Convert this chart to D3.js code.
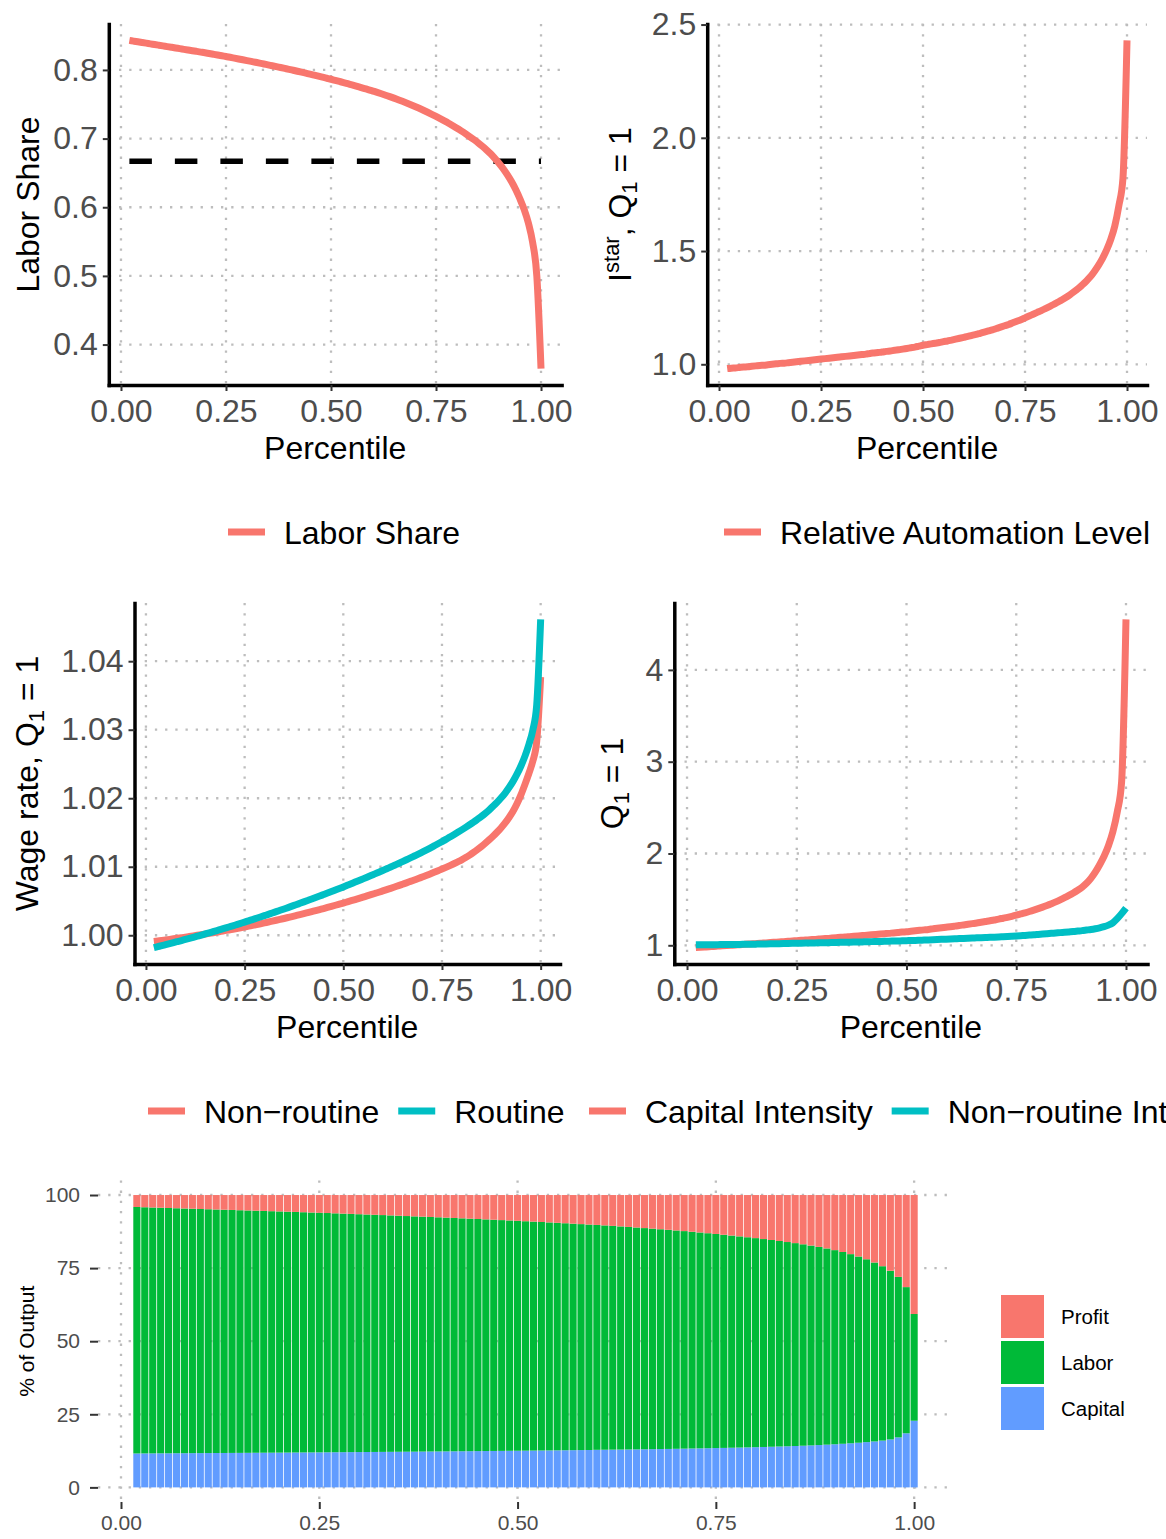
<!DOCTYPE html>
<html>
<head>
<meta charset="utf-8">
<script src="https://cdn.jsdelivr.net/npm/d3@7"></script>
<style>
  body { margin: 0; background: #fff; }
  svg { display: block; }
</style>
</head>
<body>
<svg id="chart" width="1166" height="1539"></svg>
<script>
// ---------------- DATA ----------------
const percentiles = [0.02,0.03,0.04,0.05,0.06,0.07,0.08,0.09,0.10,0.11,0.12,0.13,0.14,0.15,0.16,0.17,0.18,0.19,0.20,
  0.21,0.22,0.23,0.24,0.25,0.26,0.27,0.28,0.29,0.30,0.31,0.32,0.33,0.34,0.35,0.36,0.37,0.38,0.39,0.40,
  0.41,0.42,0.43,0.44,0.45,0.46,0.47,0.48,0.49,0.50,0.51,0.52,0.53,0.54,0.55,0.56,0.57,0.58,0.59,0.60,
  0.61,0.62,0.63,0.64,0.65,0.66,0.67,0.68,0.69,0.70,0.71,0.72,0.73,0.74,0.75,0.76,0.77,0.78,0.79,0.80,
  0.81,0.82,0.83,0.84,0.85,0.86,0.87,0.88,0.89,0.90,0.91,0.92,0.93,0.94,0.95,0.96,0.97,0.98,0.99,1.00];

const laborShare = [.8430,.8420,.8410,.8400,.8390,.8380,.8370,.8360,.8350,.8340,.8330,.8320,.8310,.8300,.8290,.8280,.8270,.8260,.8250,
  .8239,.8228,.8217,.8206,.8195,.8184,.8172,.8160,.8148,.8136,.8124,.8112,.8100,.8087,.8074,.8061,.8048,.8035,.8022,.8009,
  .7995,.7981,.7967,.7953,.7939,.7924,.7909,.7894,.7879,.7864,.7848,.7832,.7816,.7799,.7782,.7765,.7747,.7729,.7711,.7692,
  .7673,.7653,.7632,.7611,.7589,.7566,.7543,.7519,.7494,.7468,.7441,.7413,.7384,.7354,.7323,.7291,.7258,.7224,.7188,.7151,
  .7112,.7072,.7030,.6986,.6940,.6890,.6836,.6778,.6712,.6640,.6560,.6470,.6370,.6255,.6120,.5965,.5770,.5490,.5000,.3650];
const laborShareBenchmark = 0.667;

const automationLevel = [.981,.983,.984,.986,.988,.989,.991,.993,.995,.996,.998,1.000,1.002,1.004,1.005,1.007,1.009,1.011,1.013,
  1.015,1.017,1.019,1.021,1.023,1.025,1.027,1.029,1.031,1.033,1.035,1.037,1.039,1.041,1.043,1.045,1.048,1.050,1.052,1.054,
  1.057,1.059,1.062,1.064,1.067,1.070,1.073,1.076,1.080,1.084,1.087,1.090,1.093,1.096,1.100,1.103,1.107,1.111,1.115,1.119,
  1.123,1.128,1.132,1.137,1.142,1.147,1.152,1.158,1.164,1.170,1.176,1.183,1.190,1.197,1.205,1.213,1.221,1.229,1.237,1.246,
  1.255,1.264,1.274,1.284,1.295,1.307,1.320,1.334,1.350,1.367,1.386,1.410,1.437,1.468,1.505,1.550,1.610,1.700,1.820,2.430];

const wageNonRoutine = [.99910,.99917,.99924,.99932,.99940,.99948,.99956,.99964,.99972,.99981,.99990,.99999,1.00008,1.00017,1.00027,1.00037,1.00047,1.00057,1.00067,
  1.00077,1.00088,1.00099,1.00110,1.00121,1.00133,1.00144,1.00156,1.00168,1.00181,1.00193,1.00206,1.00219,1.00232,1.00245,1.00259,1.00273,1.00287,1.00301,1.00315,
  1.00330,1.00345,1.00360,1.00375,1.00390,1.00406,1.00422,1.00438,1.00454,1.00470,1.00487,1.00504,1.00521,1.00538,1.00556,1.00574,1.00592,1.00610,1.00628,1.00647,
  1.00666,1.00685,1.00705,1.00725,1.00745,1.00765,1.00786,1.00807,1.00828,1.00850,1.00872,1.00895,1.00918,1.00942,1.00966,1.00991,1.01017,1.01044,1.01072,1.01101,
  1.01134,1.01170,1.01209,1.01251,1.01296,1.01344,1.01395,1.01449,1.01507,1.01569,1.01639,1.01719,1.01809,1.01919,1.02049,1.02199,1.02360,1.02540,1.02830,1.03770];

const wageRoutine = [.99820,.99834,.99848,.99863,.99878,.99893,.99908,.99923,.99939,.99954,.99970,.99986,1.00002,1.00019,1.00035,1.00052,1.00069,1.00086,1.00103,
  1.00121,1.00138,1.00156,1.00174,1.00192,1.00211,1.00229,1.00248,1.00267,1.00286,1.00305,1.00325,1.00344,1.00364,1.00384,1.00404,1.00425,1.00445,1.00466,1.00487,
  1.00508,1.00529,1.00551,1.00572,1.00594,1.00616,1.00638,1.00661,1.00683,1.00706,1.00729,1.00752,1.00776,1.00799,1.00823,1.00847,1.00871,1.00896,1.00920,1.00945,
  1.00971,1.00996,1.01022,1.01048,1.01075,1.01102,1.01129,1.01157,1.01185,1.01214,1.01243,1.01273,1.01304,1.01335,1.01367,1.01399,1.01433,1.01467,1.01502,1.01538,
  1.01575,1.01613,1.01652,1.01693,1.01735,1.01781,1.01831,1.01885,1.01943,1.02006,1.02076,1.02156,1.02246,1.02351,1.02471,1.02611,1.02781,1.02991,1.03360,1.04610];

const capitalIntensity = [.975,.978,.981,.984,.988,.991,.994,.997,1.000,1.003,1.007,1.010,1.013,1.016,1.020,1.023,1.026,1.030,1.033,
  1.036,1.040,1.043,1.047,1.050,1.054,1.057,1.061,1.064,1.068,1.072,1.075,1.079,1.083,1.087,1.090,1.094,1.098,1.102,1.106,
  1.110,1.114,1.118,1.122,1.126,1.130,1.135,1.139,1.144,1.148,1.153,1.158,1.163,1.168,1.173,1.179,1.185,1.191,1.197,1.203,
  1.209,1.215,1.222,1.229,1.236,1.243,1.251,1.259,1.267,1.276,1.285,1.295,1.305,1.316,1.328,1.341,1.354,1.368,1.383,1.399,
  1.416,1.434,1.453,1.473,1.495,1.518,1.543,1.570,1.600,1.633,1.675,1.729,1.797,1.878,1.970,2.085,2.235,2.450,2.780,4.550];

const nonRoutineIntensity = [1.005,1.005,1.006,1.006,1.007,1.007,1.008,1.008,1.009,1.010,1.010,1.011,1.012,1.012,1.013,1.014,1.015,1.016,1.017,
  1.018,1.019,1.020,1.021,1.022,1.023,1.024,1.025,1.026,1.027,1.028,1.029,1.030,1.031,1.032,1.033,1.034,1.035,1.036,1.037,
  1.038,1.040,1.041,1.042,1.043,1.045,1.046,1.047,1.049,1.050,1.052,1.053,1.055,1.057,1.059,1.061,1.063,1.065,1.067,1.069,
  1.071,1.073,1.075,1.077,1.079,1.081,1.083,1.085,1.087,1.088,1.090,1.093,1.096,1.099,1.102,1.105,1.108,1.111,1.114,1.118,
  1.122,1.126,1.130,1.134,1.138,1.142,1.146,1.150,1.155,1.160,1.166,1.172,1.180,1.190,1.203,1.220,1.245,1.290,1.345,1.405];

// capital share of output, percent
const capitalPct = [11.60,11.62,11.63,11.65,11.66,11.68,11.69,11.71,11.72,11.74,11.75,11.77,11.79,11.80,11.82,11.84,11.86,11.87,11.89,
  11.91,11.93,11.95,11.96,11.98,12.00,12.02,12.04,12.06,12.08,12.10,12.12,12.14,12.16,12.18,12.20,12.22,12.25,12.27,12.29,
  12.31,12.34,12.36,12.38,12.41,12.43,12.46,12.48,12.51,12.53,12.56,12.59,12.61,12.64,12.67,12.70,12.73,12.76,12.79,12.85,
  12.88,12.91,12.94,12.97,13.00,13.03,13.07,13.11,13.15,13.20,13.25,13.30,13.35,13.40,13.45,13.50,13.56,13.62,13.68,13.75,
  13.82,13.90,13.98,14.06,14.15,14.25,14.36,14.48,14.61,14.75,14.91,15.08,15.27,15.48,15.72,16.00,16.40,17.10,18.50,22.80];

const xTicks = [0, 0.25, 0.5, 0.75, 1];
const laborTicks = [0.4, 0.5, 0.6, 0.7, 0.8];
const automationTicks = [1.0, 1.5, 2.0, 2.5];
const wageTicks = [1.00, 1.01, 1.02, 1.03, 1.04];
const intensityTicks = [1, 2, 3, 4];
const pctTicks = [0, 25, 50, 75, 100];
const shareKeys = ['Capital', 'Labor', 'Profit'];

// ---------------- STYLE ----------------
const FONT = '"Liberation Sans", Arial, Helvetica, sans-serif';
const RED = '#F8766D', TEAL = '#00BFC4', GREEN = '#00BA38', BLUE = '#619CFF';
const GRID = '#bdbdbd';
const FS = 32;
const SUB = 22;

const svg = d3.select('#chart');
svg.append('rect').attr('width', 1166).attr('height', 1539).attr('fill', '#fff');

function expand(ext, f = 0.05) {
  const r = ext[1] - ext[0];
  return [ext[0] - r * f, ext[1] + r * f];
}

function drawGrid(g, x, y, xt, yt, L, R, T, B) {
  g.append('g').selectAll('line').data(xt).join('line')
    .attr('x1', d => x(d)).attr('x2', d => x(d)).attr('y1', T).attr('y2', B)
    .attr('stroke', GRID).attr('stroke-width', 2.3).attr('stroke-dasharray', '2.3 7.9');
  g.append('g').selectAll('line').data(yt).join('line')
    .attr('x1', L).attr('x2', R).attr('y1', d => y(d)).attr('y2', d => y(d))
    .attr('stroke', GRID).attr('stroke-width', 2.3).attr('stroke-dasharray', '2.3 7.9');
}

function styleAxis(sel, fs, showDomain) {
  sel.attr('font-family', FONT).attr('font-size', fs);
  sel.select('.domain').attr('stroke', showDomain ? '#000' : 'none')
    .attr('stroke-width', 3.5).attr('stroke-linecap', 'square');
  sel.selectAll('.tick line').attr('stroke', '#333').attr('stroke-width', 2);
  sel.selectAll('.tick text').attr('fill', '#4d4d4d');
}

function linePanel(o) {
  const g = svg.append('g');
  const x = d3.scaleLinear().domain(expand(d3.extent(percentiles))).range([o.L, o.R]);
  const allY = o.series.flatMap(s => s.values);
  const y = d3.scaleLinear().domain(expand(d3.extent(allY))).range([o.B, o.T]);
  drawGrid(g, x, y, xTicks, o.yTicks, o.L, o.R, o.T, o.B);

  const line = d3.line().x((d, i) => x(percentiles[i])).y(d => y(d)).curve(d3.curveMonotoneX);
  o.series.forEach(s => {
    g.append('path').datum(s.values)
      .attr('d', line)
      .attr('fill', 'none')
      .attr('stroke', s.color)
      .attr('stroke-width', s.width || 7)
      .attr('stroke-dasharray', s.dash || null)
      .attr('stroke-linecap', 'butt')
      .attr('stroke-linejoin', 'round');
  });

  const ax = g.append('g').attr('transform', `translate(0,${o.B})`)
    .call(d3.axisBottom(x).tickValues(xTicks).tickFormat(d3.format('.2f'))
      .tickSizeInner(6).tickSizeOuter(0).tickPadding(8));
  styleAxis(ax, FS, true);
  const ay = g.append('g').attr('transform', `translate(${o.L},0)`)
    .call(d3.axisLeft(y).tickValues(o.yTicks).tickFormat(d3.format(o.yFmt))
      .tickSizeInner(6).tickSizeOuter(0).tickPadding(5));
  styleAxis(ay, FS, true);

  g.append('text').attr('x', (o.L + o.R) / 2).attr('y', o.B + 74)
    .attr('text-anchor', 'middle').attr('font-family', FONT).attr('font-size', FS)
    .attr('fill', '#000').text('Percentile');

  const yt = g.append('text')
    .attr('transform', `translate(${o.titleX},${(o.T + o.B) / 2}) rotate(-90)`)
    .attr('text-anchor', 'middle').attr('font-family', FONT).attr('font-size', FS).attr('fill', '#000');
  o.title.forEach(part => {
    const t = yt.append('tspan').text(part.t);
    if (part.dy) t.attr('dy', part.dy);
    if (part.fs) t.attr('font-size', part.fs);
  });

  // legend
  let lx = o.legendX;
  const ly = o.B + 147;
  o.series.filter(s => s.label).forEach(s => {
    g.append('line').attr('x1', lx).attr('x2', lx + 37).attr('y1', ly).attr('y2', ly)
      .attr('stroke', s.color).attr('stroke-width', 7);
    const t = g.append('text').attr('x', lx + 56).attr('y', ly + 11.5)
      .attr('font-family', FONT).attr('font-size', FS).attr('fill', '#000').text(s.label);
    lx = lx + 56 + t.node().getComputedTextLength() + 19;
  });
}

// Panel 1: Labor share
linePanel({
  L: 108.8, R: 561.6, T: 24, B: 385,
  yTicks: laborTicks, yFmt: '.1f', titleX: 39, legendX: 228,
  title: [{ t: 'Labor Share' }],
  series: [
    { values: percentiles.map(() => laborShareBenchmark), color: '#000', width: 5.4, dash: '22.5 23' },
    { values: laborShare, color: RED, label: 'Labor Share' }
  ]
});

// Panel 2: Relative automation level
linePanel({
  L: 707.2, R: 1147, T: 24, B: 385,
  yTicks: automationTicks, yFmt: '.1f', titleX: 631, legendX: 724,
  title: [{ t: 'I' }, { t: 'star', fs: SUB, dy: -12 }, { t: ', Q', dy: 12 }, { t: '1', fs: SUB, dy: 6 }, { t: ' = 1', dy: -6 }],
  series: [
    { values: automationLevel, color: RED, label: 'Relative Automation Level' }
  ]
});

// Panel 3: Wage rate
linePanel({
  L: 134.5, R: 560, T: 603, B: 964,
  yTicks: wageTicks, yFmt: '.2f', titleX: 38, legendX: 148,
  title: [{ t: 'Wage rate, Q' }, { t: '1', fs: SUB, dy: 6 }, { t: ' = 1', dy: -6 }],
  series: [
    { values: wageNonRoutine, color: RED, label: 'Non\u2212routine' },
    { values: wageRoutine, color: TEAL, label: 'Routine' }
  ]
});

// Panel 4: Intensities
linePanel({
  L: 674.3, R: 1147.5, T: 603, B: 964,
  yTicks: intensityTicks, yFmt: 'd', titleX: 623, legendX: 589,
  title: [{ t: 'Q' }, { t: '1', fs: SUB, dy: 6 }, { t: ' = 1', dy: -6 }],
  series: [
    { values: capitalIntensity, color: RED, label: 'Capital Intensity' },
    { values: nonRoutineIntensity, color: TEAL, label: 'Non\u2212routine Intensity' }
  ]
});

// ---------------- Bottom: stacked bars ----------------
(function () {
  const L = 98, R = 953, T = 1180.4, B = 1502;
  const g = svg.append('g');
  const x = d3.scaleLinear().domain(expand(d3.extent(percentiles))).range([L, R]);
  const y = d3.scaleLinear().domain(expand([0, 100])).range([B, T]);
  drawGrid(g, x, y, xTicks, pctTicks, L, R, T, B);

  const rows = percentiles.map((p, i) => ({
    p,
    Capital: capitalPct[i],
    Labor: laborShare[i] * 100,
    Profit: 100 - capitalPct[i] - laborShare[i] * 100
  }));
  const stack = d3.stack().keys(shareKeys)(rows);
  const colors = { Capital: BLUE, Labor: GREEN, Profit: RED };
  const bw = x(0.009) - x(0);
  stack.forEach(layer => {
    g.append('g').attr('fill', colors[layer.key]).selectAll('rect').data(layer).join('rect')
      .attr('x', d => x(d.data.p) - bw / 2)
      .attr('width', bw)
      .attr('y', d => y(d[1]))
      .attr('height', d => y(d[0]) - y(d[1]));
  });

  const ax = g.append('g').attr('transform', `translate(0,${B})`)
    .call(d3.axisBottom(x).tickValues(xTicks).tickFormat(d3.format('.2f'))
      .tickSizeInner(7).tickSizeOuter(0).tickPadding(6));
  styleAxis(ax, 21, false);
  const ay = g.append('g').attr('transform', `translate(${L},0)`)
    .call(d3.axisLeft(y).tickValues(pctTicks).tickFormat(d3.format('d'))
      .tickSizeInner(8).tickSizeOuter(0).tickPadding(10));
  styleAxis(ay, 21, false);

  g.append('text')
    .attr('transform', `translate(34,${(T + B) / 2}) rotate(-90)`)
    .attr('text-anchor', 'middle').attr('font-family', FONT).attr('font-size', 21)
    .attr('fill', '#000').text('% of Output');

  // legend (top to bottom: Profit, Labor, Capital)
  const legendOrder = shareKeys.slice().reverse();
  legendOrder.forEach((k, i) => {
    const by = 1295 + i * 46;
    g.append('rect').attr('x', 1001).attr('y', by).attr('width', 43).attr('height', 43).attr('fill', colors[k]);
    g.append('text').attr('x', 1061).attr('y', by + 21.5 + 7.5)
      .attr('font-family', FONT).attr('font-size', 20.5).attr('fill', '#000').text(k);
  });
})();
</script>
</body>
</html>
